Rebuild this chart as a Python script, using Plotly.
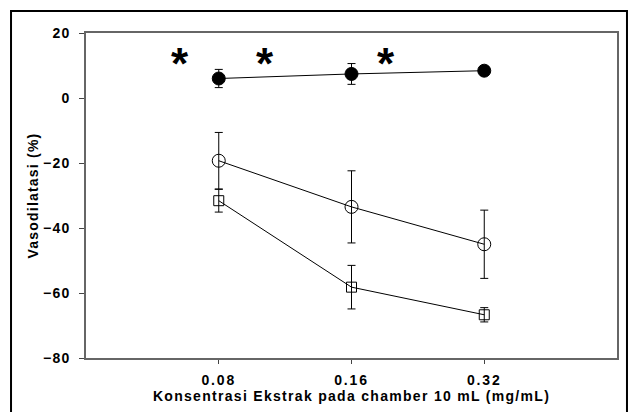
import plotly.graph_objects as go

categories = ["0.08", "0.16", "0.32"]
xpos = [1, 2, 3]

filled_vals = [6.0, 7.4, 8.4]
filled_err = [2.8, 3.2, 0.0]
open_vals = [-19.3, -33.5, -45.0]
open_err = [8.7, 11.1, 10.5]
square_vals = [-31.6, -58.2, -66.7]
square_err = [3.5, 6.7, 2.2]

star_x = [0.71, 1.35, 2.26]
star_y = [12.0, 12.0, 12.0]

yticks = [20, 0, -20, -40, -60, -80]

fig = go.Figure()

def add(vals, err, symbol, size):
    fig.add_trace(go.Scatter(
        x=xpos, y=vals, mode="lines+markers",
        line=dict(color="black", width=1),
        marker=dict(symbol=symbol, size=size, color="black",
                    line=dict(color="black", width=1)),
        error_y=dict(type="data", array=err, visible=True,
                     color="black", thickness=1, width=4),
        showlegend=False))

add(square_vals, square_err, "square-open", 10)
add(open_vals, open_err, "circle-open", 13)
add(filled_vals, filled_err, "circle", 13)

for sx, sy in zip(star_x, star_y):
    fig.add_annotation(x=sx, y=sy, text="<b>*</b>", showarrow=False,
                       font=dict(family="Liberation Sans, Arial", size=44, color="black"),
                       yanchor="middle", yshift=-4)

fig.add_shape(type="rect", xref="paper", yref="paper",
              x0=-0.1412, x1=1.0188, y0=-0.2, y1=1.0677,
              line=dict(color="black", width=2))

fig.update_layout(
    width=628, height=412,
    margin=dict(l=86, r=11, t=33, b=54, autoexpand=False),
    paper_bgcolor="white", plot_bgcolor="white",
    font=dict(family="Liberation Sans, Arial", color="black"),
    xaxis=dict(range=[0, 4], tickvals=xpos, ticktext=categories,
               showgrid=False, zeroline=False, automargin=False,
               showline=True, linecolor="#666666", linewidth=1.5, mirror=True,
               ticks="outside", ticklen=4, tickcolor="#444444",
               ticklabelstandoff=4,
               tickfont=dict(size=14, family="Liberation Sans, Arial", weight="bold"),
               title=dict(text="Konsentrasi Ekstrak pada chamber 10 mL (mg/mL)",
                          font=dict(size=14, weight="bold"), standoff=0)),
    yaxis=dict(range=[-80, 20], tickvals=yticks,
               showgrid=False, zeroline=False, automargin=False,
               showline=True, linecolor="#666666", linewidth=1.5, mirror=True,
               ticks="outside", ticklen=5, tickcolor="#444444",
               ticklabelstandoff=6,
               tickfont=dict(size=14, weight="bold"),
               title=dict(text="Vasodilatasi (%)", font=dict(size=14, weight="bold"),
                          standoff=5)),
)

post = """
document.body.style.margin='0';
document.querySelectorAll('.xtick text').forEach(function(t){t.style.letterSpacing='1.8px';});
document.querySelectorAll('.ytick text').forEach(function(t){t.style.letterSpacing='1.2px';});
document.querySelectorAll('.g-xtitle text').forEach(function(t){t.style.letterSpacing='1.3px';});
document.querySelectorAll('.g-ytitle text').forEach(function(t){t.style.letterSpacing='1.2px';});
"""

fig.write_html("out.html", post_script=post, config={"displayModeBar": False})
